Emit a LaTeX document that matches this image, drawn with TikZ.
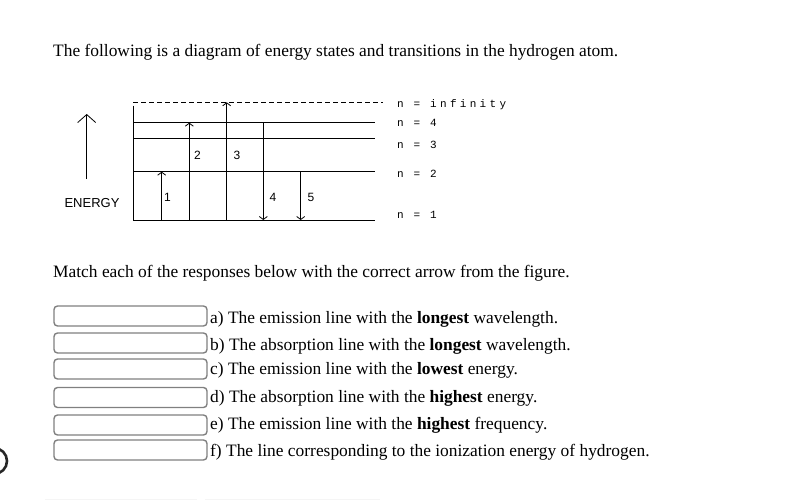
\documentclass[tikz,border=0pt]{standalone}
\usepackage{fontspec}
\setmainfont{Liberation Serif}
\newfontfamily\lblfont{Liberation Sans}
\newfontfamily\levfont[LetterSpace=30]{Liberation Mono}
\usetikzlibrary{arrows.meta}

\begin{document}
\begin{tikzpicture}[
  x=1pt, y=-1pt,
  level/.style={line width=0.8pt},
  trans/.style={line width=0.8pt, -{Straight Barb[length=3pt,width=8pt]}},
  txt/.style={anchor=base west, inner sep=0pt, font=\fontsize{17.4}{20}\selectfont},
  lev/.style={anchor=base west, inner sep=0pt, font=\levfont\fontsize{11}{13}\selectfont},
  num/.style={inner sep=0pt, font=\lblfont\fontsize{12}{14}\selectfont},
  answer/.style={draw=black!50, line width=1.4pt, rounded corners=3.5pt, minimum width=153pt, minimum height=20pt, inner sep=0pt}
]
  \useasboundingbox (0,0) rectangle (792,500);

  \node[txt] (title) at (53,57) {The following is a diagram of energy states and transitions in the hydrogen atom.};

  % energy levels
  \draw[level, dash pattern=on 5pt off 3pt] (133,102.3) -- (383,102.3);
  \draw[level] (133,105.7) -- (133,220);
  \draw[level] (133,122.7) -- (375,122.7);
  \draw[level] (133,138.3) -- (375,138.3);
  \draw[level] (133,171.7) -- (375,171.7);
  \draw[level] (133,220) -- (375,220);

  \node[lev] (ninf) at (397,108) {n = infinity};
  \node[lev] (n4) at (397,126.5) {n = 4};
  \node[lev] (n3) at (397,148) {n = 3};
  \node[lev] (n2) at (397,177.5) {n = 2};
  \node[lev] (n1) at (397,218.5) {n = 1};

  % energy axis
  \draw[line width=0.8pt, -{Straight Barb[length=8pt,width=18pt]}] (86.7,179) -- (86.7,114);
  \node[num, font=\lblfont\fontsize{13}{15}\selectfont] (energy) at (92,203) {ENERGY};

  % transitions
  \draw[trans] (161.7,220) -- (161.7,171.7);
  \draw[trans] (189.3,220) -- (189.3,122.7);
  \draw[trans] (226.7,220) -- (226.7,102.3);
  \draw[trans] (263.3,122.7) -- (263.3,220);
  \draw[trans] (300.7,171.7) -- (300.7,220);

  \node[num] (t1) at (167.5,197) {1};
  \node[num] (t2) at (197.5,155) {2};
  \node[num] (t3) at (237,155) {3};
  \node[num] (t4) at (273,197) {4};
  \node[num] (t5) at (311,197) {5};

  \node[txt] (match) at (53,277) {Match each of the responses below with the correct arrow from the figure.};

  % answer boxes
  \node[answer] (boxa) at (130.5,316) {};
  \node[answer] (boxb) at (130.5,343) {};
  \node[answer] (boxc) at (130.5,369) {};
  \node[answer] (boxd) at (130.5,397.5) {};
  \node[answer] (boxe) at (130.5,425) {};
  \node[answer] (boxf) at (130.5,450) {};

  \node[txt] (ansa) at (210,323) {a) The emission line with the \textbf{longest} wavelength.};
  \node[txt] (ansb) at (210,350) {b) The absorption line with the \textbf{longest} wavelength.};
  \node[txt] (ansc) at (210,374) {c) The emission line with the \textbf{lowest} energy.};
  \node[txt] (ansd) at (210,402) {d) The absorption line with the \textbf{highest} energy.};
  \node[txt] (anse) at (210,429) {e) The emission line with the \textbf{highest} frequency.};
  \node[txt] (ansf) at (210,456) {f) The line corresponding to the ionization energy of hydrogen.};

  % page edge bits
  \draw[line width=2.6pt, black!85] (-6,461) circle (13);
  \draw[black!4, line width=0.8pt] (45,499.3) -- (197,499.3);
  \draw[black!4, line width=0.8pt] (205,499.3) -- (380,499.3);
\end{tikzpicture}
\end{document}
